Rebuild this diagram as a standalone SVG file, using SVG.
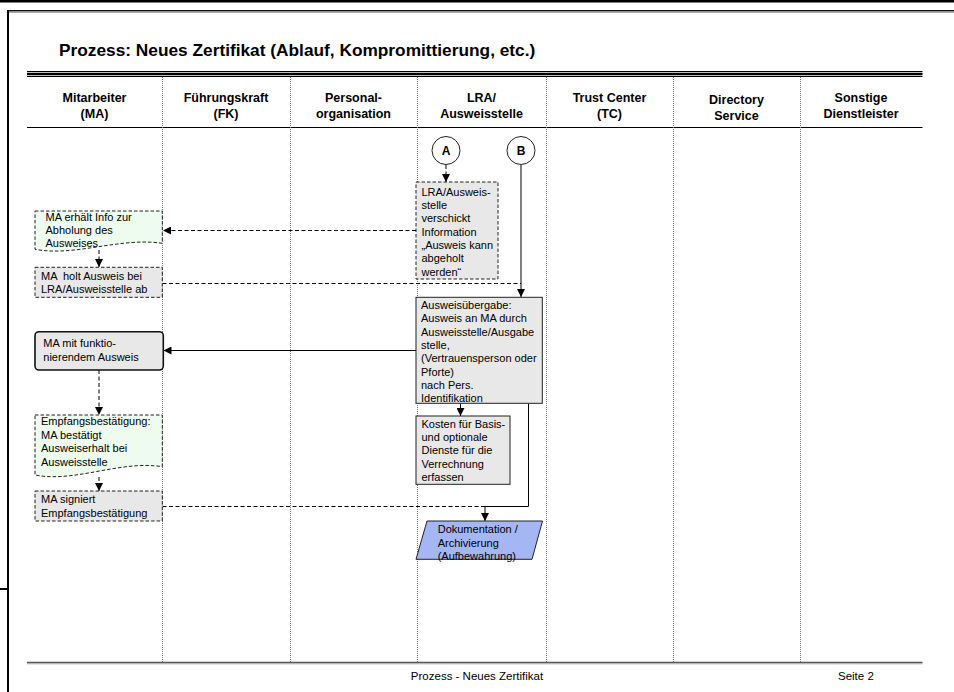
<svg xmlns="http://www.w3.org/2000/svg" width="954" height="692" viewBox="0 0 954 692">
  <style>
    .t { font-family: "Liberation Sans", Arial, sans-serif; font-size: 11px; fill: #000; }
    .h { font-family: "Liberation Sans", Arial, sans-serif; font-size: 12.5px; font-weight: bold; fill: #000; text-anchor: middle; }
    .title { font-family: "Liberation Sans", Arial, sans-serif; font-size: 17.3px; font-weight: bold; fill: #000; }
    .foot { font-family: "Liberation Sans", Arial, sans-serif; font-size: 11.5px; fill: #000; }
    .lane { stroke: #777; stroke-width: 1; stroke-dasharray: 1 1; fill: none; }
    .box { fill: #e8e8e8; stroke: #222; stroke-width: 1; }
    .dbox { fill: #e8e8e8; stroke: #222; stroke-width: 1; stroke-dasharray: 3.5 2; }
    .doc { fill: #eefcf0; stroke: #222; stroke-width: 1; stroke-dasharray: 3.5 2; }
    .term { fill: #e8e8e8; stroke: #111; stroke-width: 1.6; }
    .io { fill: #a4b6f3; stroke: #222; stroke-width: 1; }
    .ref { fill: #fff; stroke: #222; stroke-width: 1; }
    .ref-t { font-family: "Liberation Sans", Arial, sans-serif; font-size: 12px; font-weight: bold; text-anchor: middle; }
    .c { fill: none; stroke: #000; stroke-width: 1; }
    .cd { fill: none; stroke: #000; stroke-width: 1; stroke-dasharray: 4 2.5; }
  </style>
  <defs>
    <marker id="ah" viewBox="0 0 10 10" refX="10" refY="5" markerWidth="8" markerHeight="8" orient="auto" markerUnits="userSpaceOnUse">
      <path d="M0,0 L10,5 L0,10 Z" fill="#000"/>
    </marker>
  </defs>

  <rect width="954" height="692" fill="#fff"/>

  <!-- page frame -->
  <g id="frame">
    <line x1="0" y1="1" x2="954" y2="1" stroke="#000" stroke-width="3"/>
    <line x1="8" y1="10.8" x2="954" y2="10.8" stroke="#111" stroke-width="1.6"/>
    <line x1="8" y1="12.3" x2="954" y2="12.3" stroke="#999" stroke-width="1"/>
    <line x1="8" y1="10" x2="8" y2="692" stroke="#000" stroke-width="2"/>
    <line x1="0" y1="589" x2="8" y2="589" stroke="#000" stroke-width="2"/>
  </g>

  <!-- title and swimlane header -->
  <g id="header">
    <text class="title" x="59" y="56">Prozess: Neues Zertifikat (Ablauf, Kompromittierung, etc.)</text>
    <line x1="27" y1="71.5" x2="922.5" y2="71.5" stroke="#000" stroke-width="1"/>
    <line x1="27" y1="74" x2="922.5" y2="74" stroke="#000" stroke-width="2.4"/>
    <line x1="27" y1="76.5" x2="922.5" y2="76.5" stroke="#000" stroke-width="1"/>
    <text class="h" x="94.5" y="102">Mitarbeiter</text>
    <text class="h" x="94.5" y="118">(MA)</text>
    <text class="h" x="226" y="102">Führungskraft</text>
    <text class="h" x="226" y="118">(FK)</text>
    <text class="h" x="353.5" y="102">Personal-</text>
    <text class="h" x="353.5" y="118">organisation</text>
    <text class="h" x="481.5" y="102">LRA/</text>
    <text class="h" x="481.5" y="118">Ausweisstelle</text>
    <text class="h" x="609.5" y="102">Trust Center</text>
    <text class="h" x="609.5" y="118">(TC)</text>
    <text class="h" x="736.5" y="104">Directory</text>
    <text class="h" x="736.5" y="120">Service</text>
    <text class="h" x="861" y="102">Sonstige</text>
    <text class="h" x="861" y="118">Dienstleister</text>
    <line x1="27" y1="127.5" x2="922.5" y2="127.5" stroke="#000" stroke-width="1"/>
  </g>

  <!-- lane separators -->
  <g id="lanes">
    <line class="lane" x1="162.5" y1="77" x2="162.5" y2="662"/>
    <line class="lane" x1="290.5" y1="77" x2="290.5" y2="662"/>
    <line class="lane" x1="417.5" y1="77" x2="417.5" y2="662"/>
    <line class="lane" x1="546.5" y1="77" x2="546.5" y2="662"/>
    <line class="lane" x1="673.5" y1="77" x2="673.5" y2="662"/>
    <line class="lane" x1="800.5" y1="77" x2="800.5" y2="662"/>
  </g>

  <!-- connectors -->
  <g id="connectors">
    <line class="cd" x1="446" y1="165" x2="446" y2="182" marker-end="url(#ah)"/>
    <line class="c" x1="521" y1="165" x2="521" y2="297" marker-end="url(#ah)"/>
    <line class="cd" x1="416" y1="230.5" x2="163" y2="230.5" marker-end="url(#ah)"/>
    <line class="cd" x1="99" y1="250" x2="99" y2="267" marker-end="url(#ah)"/>
    <line class="cd" x1="162.5" y1="283.5" x2="521" y2="283.5"/>
    <line class="c" x1="416" y1="350.5" x2="163.5" y2="350.5" marker-end="url(#ah)"/>
    <line class="c" x1="460.5" y1="403.5" x2="460.5" y2="416" marker-end="url(#ah)"/>
    <line class="cd" x1="99" y1="370" x2="99" y2="415" marker-end="url(#ah)"/>
    <line class="cd" x1="99" y1="477" x2="99" y2="491" marker-end="url(#ah)"/>
    <line class="cd" x1="162.5" y1="506.5" x2="485" y2="506.5"/>
    <path class="c" d="M528.5,403.5 V506.5 H485 V521" marker-end="url(#ah)"/>
  </g>

  <!-- off-page references -->
  <g id="ref-a">
    <circle class="ref" cx="446" cy="150.5" r="14"/>
    <text class="ref-t" x="446" y="155">A</text>
  </g>
  <g id="ref-b">
    <circle class="ref" cx="521" cy="150.5" r="14"/>
    <text class="ref-t" x="521" y="155">B</text>
  </g>

  <g id="lra-info">
    <rect class="dbox" x="416" y="182" width="82" height="97"/>
    <text class="t" x="421.5"><tspan x="421.5" y="195.7">LRA/Ausweis-</tspan><tspan x="421.5" y="209">stelle</tspan><tspan x="421.5" y="222.3">verschickt</tspan><tspan x="421.5" y="235.7">Information</tspan><tspan x="421.5" y="249">„Ausweis kann</tspan><tspan x="421.5" y="262.3">abgeholt</tspan><tspan x="421.5" y="275.7">werden“</tspan></text>
  </g>

  <g id="ma-info">
    <path class="doc" d="M35,211 H162.3 V243.3 C120,237 75,257 35,249.3 Z"/>
    <text class="t"><tspan x="45.5" y="220.7">MA erhält Info zur</tspan><tspan x="45.5" y="234">Abholung des</tspan><tspan x="45.5" y="247.3">Ausweises</tspan></text>
  </g>

  <g id="ma-abholen">
    <rect class="dbox" x="35" y="267.3" width="127.3" height="30"/>
    <text class="t" style="white-space:pre"><tspan x="41" y="280">MA  holt Ausweis bei</tspan><tspan x="41" y="293.3">LRA/Ausweisstelle ab</tspan></text>
  </g>

  <g id="uebergabe">
    <rect class="box" x="416" y="297.3" width="126.3" height="106"/>
    <text class="t"><tspan x="421" y="309">Ausweisübergabe:</tspan><tspan x="421" y="322.3">Ausweis an MA durch</tspan><tspan x="421" y="335.7">Ausweisstelle/Ausgabe</tspan><tspan x="421" y="349">stelle,</tspan><tspan x="421" y="362.3">(Vertrauensperson oder</tspan><tspan x="421" y="375.7">Pforte)</tspan><tspan x="421" y="389">nach Pers.</tspan><tspan x="421" y="402.3">Identifikation</tspan></text>
  </g>

  <g id="ma-ausweis">
    <rect class="term" x="35" y="331.7" width="128.3" height="38.3" rx="4"/>
    <text class="t"><tspan x="43.3" y="346.7">MA mit funktio-</tspan><tspan x="43.3" y="361">nierendem Ausweis</tspan></text>
  </g>

  <g id="kosten">
    <rect class="box" x="416" y="416" width="94" height="68.3"/>
    <text class="t"><tspan x="421.5" y="427.7">Kosten für Basis-</tspan><tspan x="421.5" y="441">und optionale</tspan><tspan x="421.5" y="454.3">Dienste für die</tspan><tspan x="421.5" y="467.7">Verrechnung</tspan><tspan x="421.5" y="481">erfassen</tspan></text>
  </g>

  <g id="empfang">
    <path class="doc" d="M35,415 H162.3 V466.7 C120,460 75,483 35,475 Z"/>
    <text class="t"><tspan x="41" y="425">Empfangsbestätigung:</tspan><tspan x="41" y="438.7">MA bestätigt</tspan><tspan x="41" y="452.3">Ausweiserhalt bei</tspan><tspan x="41" y="465.7">Ausweisstelle</tspan></text>
  </g>

  <g id="ma-signiert">
    <rect class="dbox" x="35" y="491" width="127.3" height="30"/>
    <text class="t"><tspan x="41" y="503.3">MA signiert</tspan><tspan x="41" y="516.7">Empfangsbestätigung</tspan></text>
  </g>

  <g id="dokumentation">
    <polygon class="io" points="427,521 542.5,521 532,559.3 416,559.3"/>
    <text class="t"><tspan x="437.7" y="533.3">Dokumentation /</tspan><tspan x="437.7" y="546.7">Archivierung</tspan><tspan x="437.7" y="560">(Aufbewahrung)</tspan></text>
  </g>

  <!-- footer -->
  <g id="footer">
    <line x1="27" y1="662.5" x2="922.5" y2="662.5" stroke="#555" stroke-width="1.5"/>
    <line x1="27" y1="663.8" x2="922.5" y2="663.8" stroke="#aaa" stroke-width="1"/>
    <text class="foot" x="477" y="680" text-anchor="middle">Prozess - Neues Zertifikat</text>
    <text class="foot" x="838" y="680">Seite 2</text>
  </g>
</svg>
